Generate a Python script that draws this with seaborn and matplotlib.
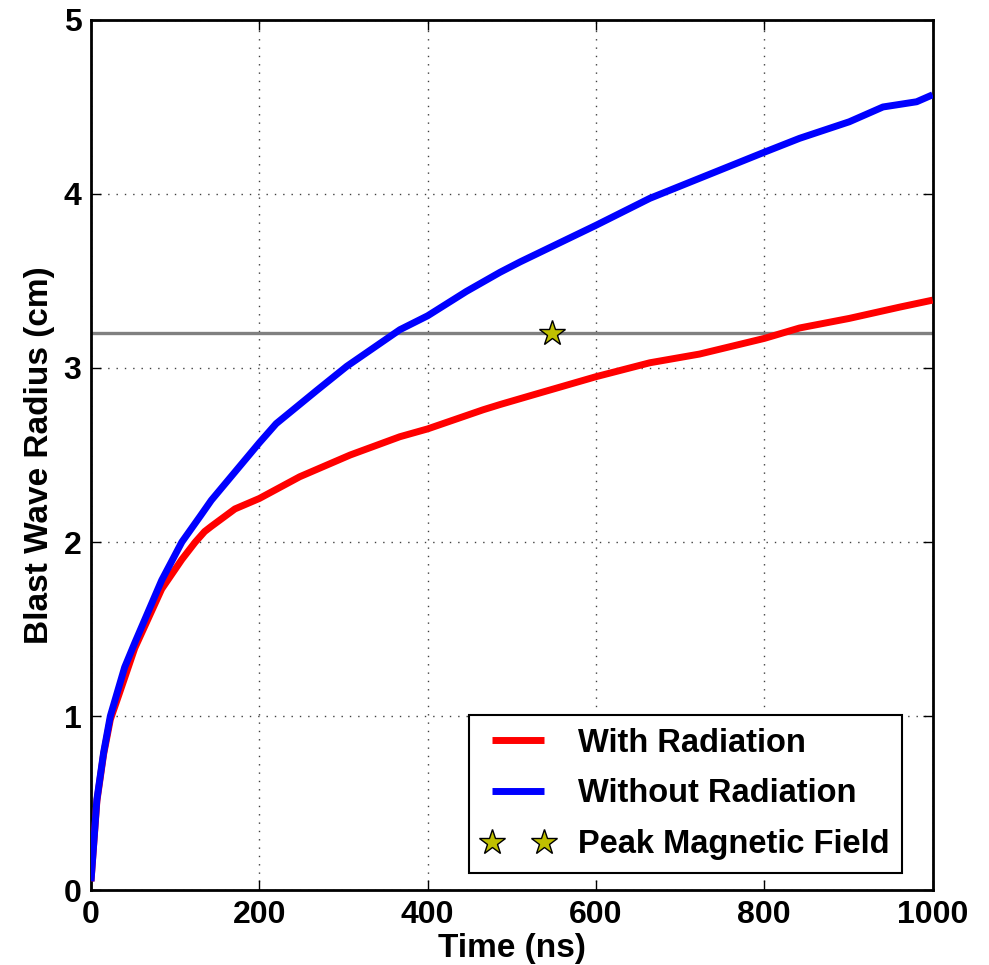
import matplotlib
matplotlib.use("Agg")
import matplotlib.pyplot as plt
import pandas as pd
import seaborn as sns

# Blast wave radius vs time
time_without = [0, 7, 15, 23, 40, 52, 68, 84, 108, 130, 143, 200, 220, 268, 304,
                367, 400, 446, 486, 510, 600, 664, 723, 800, 842, 901, 941, 981, 1000]
radius_without = [0.05, 0.52, 0.79, 1.0, 1.28, 1.42, 1.60, 1.78, 2.0, 2.15, 2.24,
                  2.57, 2.68, 2.87, 3.01, 3.22, 3.30, 3.44, 3.55, 3.61, 3.82,
                  3.975, 4.09, 4.24, 4.32, 4.415, 4.50, 4.53, 4.57]

time_with = [0, 7, 15, 23, 33, 52, 84, 108, 124, 135, 143, 171, 200, 248, 308,
             367, 400, 466, 486, 525, 600, 664, 723, 800, 842, 901, 961, 1000]
radius_with = [0.05, 0.51, 0.78, 0.98, 1.12, 1.39, 1.73, 1.90, 2.0, 2.06, 2.09,
               2.19, 2.25, 2.375, 2.5, 2.605, 2.65, 2.76, 2.79, 2.845, 2.95, 3.03,
               3.08, 3.17, 3.23, 3.285, 3.35, 3.39]

threshold_radius = 3.2
peak_time = [548]
peak_radius = [3.2]

df_with = pd.DataFrame({"t": time_with, "r": radius_with})
df_without = pd.DataFrame({"t": time_without, "r": radius_without})

sns.set_style("ticks")
plt.rcParams["font.family"] = ["Liberation Sans", "DejaVu Sans"]
plt.rcParams.update({
    "font.weight": "bold",
    "axes.labelweight": "bold",
    "axes.linewidth": 2,
    "axes.edgecolor": "black",
    "text.color": "black",
    "axes.labelcolor": "black",
    "xtick.color": "black",
    "ytick.color": "black",
    "lines.solid_capstyle": "butt",
})

fig = plt.figure(figsize=(9.89, 9.65), dpi=100)
ax = fig.add_axes([0.092, 0.0777, 0.851, 0.9016])

ax.axhline(threshold_radius, color="gray", lw=2.4, zorder=2)
sns.lineplot(data=df_with, x="t", y="r", color="red", lw=5, ax=ax,
             label="With Radiation", estimator=None, sort=False, zorder=3)
sns.lineplot(data=df_without, x="t", y="r", color="blue", lw=5, ax=ax,
             label="Without Radiation", estimator=None, sort=False, zorder=4)
ax.plot(peak_time, peak_radius, ls="none", marker="*", ms=19,
        mfc=(0.75, 0.75, 0), mec="black", mew=1,
        label="Peak Magnetic Field", zorder=5)

ax.set_xlim(0, 1000)
ax.set_ylim(0, 5)
ax.set_xticks([0, 200, 400, 600, 800, 1000])
ax.set_yticks([0, 1, 2, 3, 4, 5])
ax.grid(True, color="black", ls=(0, (1, 5)), lw=1, alpha=0.75)
ax.tick_params(direction="in", length=7, width=1, top=True, right=True,
               labelsize=23, pad=7, colors="black")
for lab in ax.get_xticklabels() + ax.get_yticklabels():
    lab.set_fontweight("bold")

ax.set_xlabel("Time (ns)", fontsize=24, fontweight="bold", labelpad=2)
ax.set_ylabel("Blast Wave Radius (cm)", fontsize=24, fontweight="bold", labelpad=6)

leg = ax.legend(loc="lower right", bbox_to_anchor=(0.964, 0.0195),
                borderaxespad=0, fontsize=23.5, numpoints=2, fancybox=False,
                framealpha=1, edgecolor="black", handlelength=2.2,
                handletextpad=0.72, labelspacing=0.6, borderpad=0.4)
leg.get_frame().set_linewidth(1.5)
for txt in leg.get_texts():
    txt.set_fontweight("bold")

fig.savefig("out.png", dpi=100)
